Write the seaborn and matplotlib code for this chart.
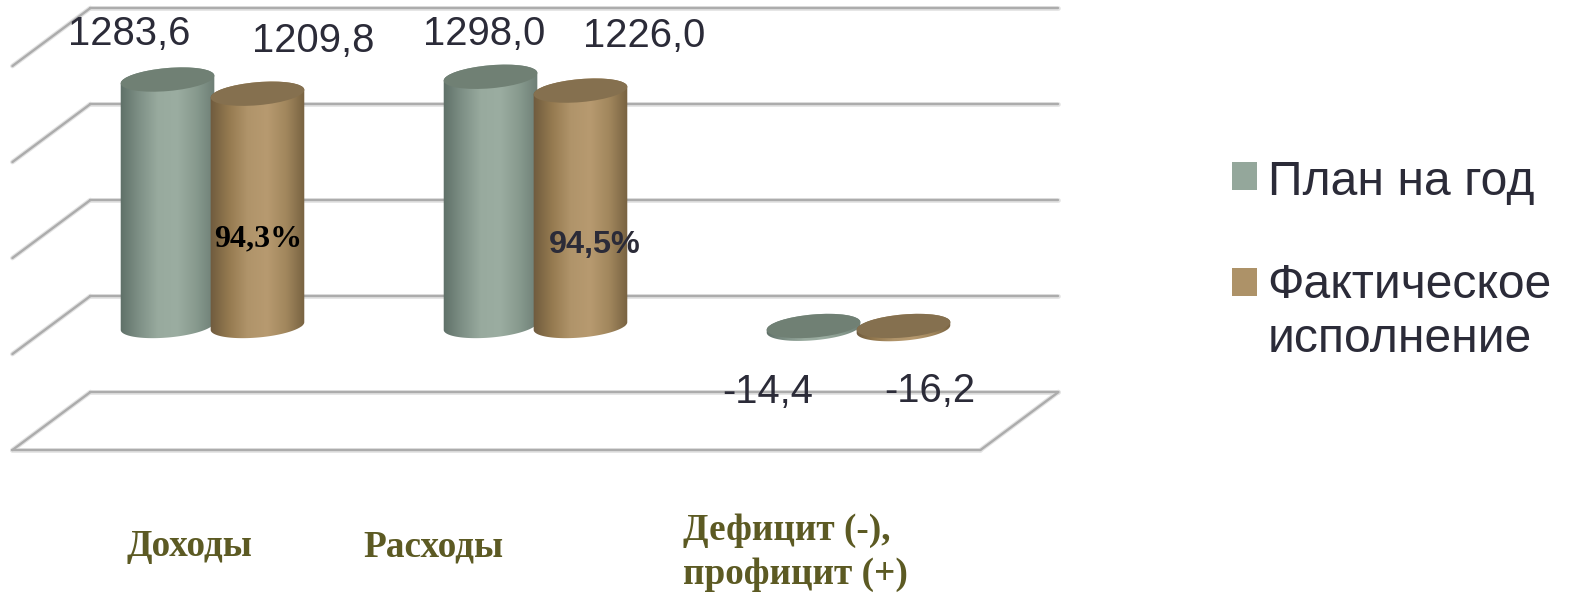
import numpy as np
import pandas as pd
import matplotlib
matplotlib.use("Agg")
import matplotlib.pyplot as plt
import seaborn as sns
from matplotlib.colors import LinearSegmentedColormap
from matplotlib.patches import Ellipse, PathPatch, Patch
from matplotlib.path import Path
from matplotlib.transforms import IdentityTransform, Affine2D

categories = ["Доходы", "Расходы", "Дефицит (-),\nпрофицит (+)"]
series_names = ["План на год", "Фактическое\nисполнение"]
plan_values = [1283.6, 1298.0, -14.4]
fact_values = [1209.8, 1226.0, -16.2]
plan_labels = ["1283,6", "1298,0", "-14,4"]
fact_labels = ["1209,8", "1226,0", "-16,2"]
percent_labels = ["94,3%", "94,5%"]
wall_ticks = [-500, 0, 500, 1000, 1500]

W, H, DPI = 1573, 593, 100
sns.set_theme(style="white")
plt.rcParams["font.family"] = ["Liberation Sans", "DejaVu Sans"]

df = pd.DataFrame({
    "cat": categories * 2,
    "series": [series_names[0]] * 3 + [series_names[1]] * 3,
    "value": plan_values + fact_values,
})

fig = plt.figure(figsize=(W / DPI, H / DPI), dpi=DPI, facecolor="white")
ax = fig.add_axes([0, 0, 1, 1])
LEG_COLORS = ["#94a79b", "#ad9268"]
sns.barplot(data=df, x="cat", y="value", hue="series", hue_order=series_names,
            order=categories, palette=LEG_COLORS, width=0.557, gap=0,
            saturation=1, errorbar=None, ax=ax, zorder=3, legend=False)

# scales: category spacing 323 px, 0.192 px per unit, zero at pixel row 326
X0, XS, Y0, YS = 212.5, 323, 326, 0.192


def set_limits():
    ax.set_xlim(-X0 / XS, (W - X0) / XS)
    ax.set_ylim(-(H - Y0) / YS, Y0 / YS)


set_limits()
ax.set_xlabel("")
ax.set_ylabel("")
ax.set_yticks([])
sns.despine(ax=ax, left=True, bottom=True)
ax.patch.set_alpha(0)

# 3-D walls and floor
back_l, back_r = -0.378, 2.619
back_off = 156
depth_dx, depth_dy = -0.2415, -302


def wall_line(xs, ys):
    ax.plot(xs, ys, color="#e3e3e3", lw=3.4, zorder=1, solid_capstyle="round")
    ax.plot(xs, ys, color="#acacac", lw=1.7, zorder=1.5, solid_capstyle="round")


for t in wall_ticks:
    y = t + back_off
    wall_line([back_l, back_r], [y, y])
    wall_line([back_l, back_l + depth_dx], [y, y + depth_dy])
yf = wall_ticks[0] + back_off
wall_line([back_l + depth_dx, back_r + depth_dx], [yf + depth_dy, yf + depth_dy])
wall_line([back_r, back_r + depth_dx], [yf, yf + depth_dy])

# cylinders
cmaps = [
    LinearSegmentedColormap.from_list("p", ["#5d6e66", "#7d8f85", "#98aa9e", "#9badA1", "#879a8e", "#6c7d74"]),
    LinearSegmentedColormap.from_list("f", ["#6d593d", "#94794f", "#b0946a", "#b79a70", "#a1865d", "#75603f"]),
]
cap_colors = ["#708074", "#85704f"]
theta = np.radians(5.0)
semi_b = 11.5
gradient = np.linspace(0, 1, 256)[None, :]


def ell(cx, cy, a, t):
    return (cx + a * np.cos(t) * np.cos(theta) - semi_b * np.sin(t) * np.sin(theta),
            cy + a * np.cos(t) * np.sin(theta) + semi_b * np.sin(t) * np.cos(theta))


for s, cont in enumerate(ax.containers):
    for b in cont:
        x0, w, h = b.get_x(), b.get_width(), b.get_height()
        px0 = ax.transData.transform((x0, 0))[0]
        px1, py_top = ax.transData.transform((x0 + w, max(h, 0)))
        py_low = ax.transData.transform((x0, min(h, 0)))[1]
        cx, a = (px0 + px1) / 2, (px1 - px0) / 2 + 2
        z = 3 + s
        lx, ly = ell(cx, py_low, a, np.linspace(np.pi, 2 * np.pi, 60))
        ux, uy = ell(cx, py_top, a, np.linspace(0, np.pi, 60))
        verts = np.vstack([np.c_[lx, ly], np.c_[ux, uy], [[lx[0], ly[0]]]])
        clip = PathPatch(Path(verts), transform=IdentityTransform(), fc="none", ec="none")
        b.set_clip_path(clip)
        b.set_zorder(z)
        im = ax.imshow(gradient, cmap=cmaps[s], aspect="auto", zorder=z + 0.1,
                       extent=(x0 - 0.01, x0 + w + 0.01, min(h, 0) - 80, max(h, 0) + 80))
        im.set_clip_path(clip)
        ax.add_patch(Ellipse((cx, py_top), 2 * a, 2 * semi_b, angle=5.0,
                             transform=IdentityTransform(), fc=cap_colors[s],
                             ec="none", zorder=z + 0.2))
set_limits()

# data labels: offsets in pixels from the bar's centre and value
TEXT_DARK = "#2b2b38"
label_offsets = [
    [(-38, 46), (-6, 43), (-46, -66)],
    [(56, 53), (64, 55), (26, -65)],
]
label_sets = [plan_labels, fact_labels]
for s, cont in enumerate(ax.containers):
    for i, b in enumerate(cont):
        dx, dy = label_offsets[s][i]
        ax.annotate(label_sets[s][i], (b.get_x() + b.get_width() / 2, max(b.get_height(), 0)),
                    xytext=(dx * 72 / DPI, dy * 72 / DPI), textcoords="offset points",
                    ha="center", va="center", fontsize=28.8, color=TEXT_DARK, zorder=8)

# percentage labels inside the "fact" cylinders
pct_styles = [
    dict(family="Liberation Serif", fontweight="bold", color="black", fontsize=23),
    dict(family="Liberation Sans", fontweight="bold", color=TEXT_DARK, fontsize=23.3),
]
pct_offsets = [(1, -145), (14, -154)]
for i, txt in enumerate(percent_labels):
    b = ax.containers[1][i]
    ax.annotate(txt, (b.get_x() + b.get_width() / 2, b.get_height()),
                xytext=(pct_offsets[i][0] * 72 / DPI, pct_offsets[i][1] * 72 / DPI),
                textcoords="offset points", ha="center", va="center", zorder=9, **pct_styles[i])

# category labels as tick labels
ax.set_xticks(range(3))
ax.set_xticklabels(categories)
ax.tick_params(axis="x", length=0, pad=0)
tick_shift = [(-23, 63.5), (-102, 63.5), (-63, 80.5)]
for lab, (dx, dy) in zip(ax.get_xticklabels(), tick_shift):
    lab.set(family="Liberation Serif", fontweight="bold", fontsize=26.8, color="#5c5a23",
            ha="center", va="top", linespacing=1.33, multialignment="left", clip_on=False)
    lab.set_transform(lab.get_transform() + Affine2D().translate(dx, dy))

# legend
handles = [Patch(facecolor=c, edgecolor="none", linewidth=0, label=n)
           for c, n in zip(LEG_COLORS, series_names)]
leg = ax.legend(handles=handles, loc="upper left", bbox_to_anchor=(1232 / W, 1 - 160 / H),
                frameon=False, fontsize=34.6, handlelength=0.52, handleheight=0.52,
                handletextpad=0.22, labelspacing=1.2, borderpad=0, borderaxespad=0)
for t in leg.get_texts():
    t.set_color(TEXT_DARK)
    t.set_linespacing(1.27)
hp = leg.get_patches()
hp[0].set_y(hp[0].get_y() + 2 * 0.72)
hp[1].set_y(hp[1].get_y() + 31 * 0.72)

fig.savefig("out.png", dpi=DPI, facecolor="white")
